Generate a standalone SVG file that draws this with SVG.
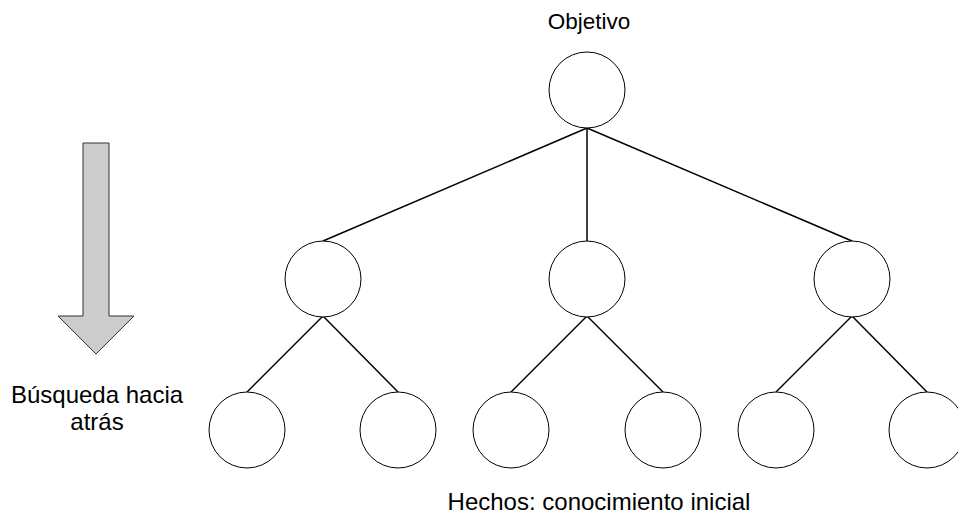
<svg xmlns="http://www.w3.org/2000/svg" width="958" height="516" viewBox="0 0 958 516">
<style>
.n{fill:#fff;stroke:#000;stroke-width:1}
.c{stroke:#000;stroke-width:1.5;fill:none}
.t{font-family:"Liberation Sans",Arial,sans-serif;font-size:24px;fill:#000;text-anchor:middle}
</style>
<rect width="958" height="516" fill="#fff"/>
<g id="connectors">
<line class="c" x1="587" y1="128" x2="323" y2="241"/>
<line class="c" x1="587" y1="128" x2="587" y2="241"/>
<line class="c" x1="587" y1="128" x2="852" y2="241"/>
<line class="c" x1="323" y1="316" x2="247" y2="392"/>
<line class="c" x1="323" y1="316" x2="398" y2="392"/>
<line class="c" x1="587" y1="316" x2="511" y2="392"/>
<line class="c" x1="587" y1="316" x2="663" y2="392"/>
<line class="c" x1="852" y1="316" x2="776" y2="392"/>
<line class="c" x1="852" y1="316" x2="927" y2="392"/>
</g>
<g id="root"><circle class="n" cx="587" cy="90" r="38"/></g>
<g id="a"><circle class="n" cx="323" cy="279" r="38"/></g>
<g id="b"><circle class="n" cx="587" cy="279" r="38"/></g>
<g id="c"><circle class="n" cx="852" cy="279" r="38"/></g>
<g id="a1"><circle class="n" cx="247" cy="430" r="38"/></g>
<g id="a2"><circle class="n" cx="398" cy="430" r="38"/></g>
<g id="b1"><circle class="n" cx="511" cy="430" r="38"/></g>
<g id="b2"><circle class="n" cx="663" cy="430" r="38"/></g>
<g id="c1"><circle class="n" cx="776" cy="430" r="38"/></g>
<g id="c2"><circle class="n" cx="927" cy="430" r="38"/></g>
<g id="arrow"><polygon points="83,143 109,143 109,316 134,316 96,354 58,316 83,316" fill="#cccccc" stroke="#333" stroke-width="1"/></g>
<text class="t" x="589" y="29" style="font-size:22.5px">Objetivo</text>
<text class="t" x="97" y="403">Búsqueda hacia</text>
<text class="t" x="97" y="430">atrás</text>
<text class="t" x="599" y="510">Hechos: conocimiento inicial</text>
</svg>
